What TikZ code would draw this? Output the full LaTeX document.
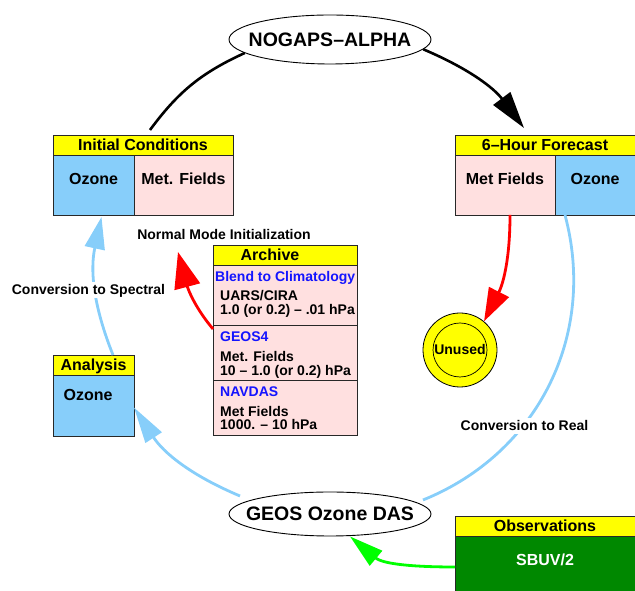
\documentclass[tikz,border=0pt]{standalone}
\usepackage{fontspec}
\setmainfont{Liberation Sans}
\usetikzlibrary{arrows.meta,shapes.geometric}
\definecolor{ozblue}{RGB}{135,206,250}
\definecolor{metpink}{RGB}{255,224,224}
\definecolor{hdryellow}{RGB}{255,255,0}
\definecolor{obsgreen}{RGB}{0,136,0}
\definecolor{arrgreen}{RGB}{0,255,0}
\definecolor{txtblue}{RGB}{20,20,255}
\definecolor{edgecol}{RGB}{40,40,40}
\begin{document}
\begin{tikzpicture}[x=1pt,y=1pt,
  boxcell/.style={draw=edgecol, line width=0.9pt, inner sep=0pt, outer sep=0pt,
    font=\bfseries\fontsize{16}{16}\selectfont, text height=11.5pt, text depth=0pt},
  hdrcell/.style={boxcell, fill=hdryellow, minimum height=20pt},
  ozcell/.style={boxcell, fill=ozblue, text depth=12pt},
  metcell/.style={boxcell, fill=metpink, text depth=12pt},
  bigtxt/.style={inner sep=0pt, font=\bfseries\fontsize{16}{16}\selectfont, text height=11.5pt, text depth=0pt},
  smalltxt/.style={inner sep=0pt, anchor=base west, font=\bfseries\fontsize{14}{14}\selectfont},
  bluetxt/.style={smalltxt, text=txtblue},
  lbl/.style={fill=white, inner sep=3pt, font=\bfseries\fontsize{14}{14}\selectfont, text height=10pt, text depth=0pt},
  ovalnode/.style={ellipse, draw=black, line width=0.9pt, fill=white, inner sep=0pt, minimum width=202pt},
  ovaltext/.style={inner sep=0pt, font=\bfseries\fontsize{19.5}{20}\selectfont, text height=14pt, text depth=0pt},
  blackline/.style={line width=2.6pt, draw=black},
  blueline/.style={line width=2.8pt, draw=ozblue},
  redline/.style={line width=2.8pt, draw=red},
  greenline/.style={line width=2.8pt, draw=arrgreen},
  bigtip/.style={-{Triangle[length=37pt,width=21pt]}}
]
\useasboundingbox (0,0) rectangle (635,591);

% ellipses
\node[ovalnode, minimum height=49pt, label={[ovaltext]center:NOGAPS–ALPHA}] (nogaps) at (330,551.5) {};
\node[ovalnode, minimum height=44pt, label={[ovaltext]center:GEOS Ozone DAS}] (das) at (330,77) {};

% Initial Conditions
\node[hdrcell, minimum width=180pt] (ich) at (143,446) {Initial Conditions};
\node[ozcell, minimum width=81pt, minimum height=60pt] (icoz) at (93.5,406) {Ozone};
\node[metcell, minimum width=99pt, minimum height=60pt] (icmet) at (183.5,406) {Met. Fields};

% 6-Hour Forecast
\node[hdrcell, minimum width=180pt] (fch) at (545,446) {6–Hour Forecast};
\node[metcell, minimum width=100pt, minimum height=60pt] (fcmet) at (505,406) {Met Fields};
\node[ozcell, minimum width=80pt, minimum height=60pt] (fcoz) at (595,406) {Ozone};

% Analysis
\node[hdrcell, minimum width=81pt] (anh) at (93.5,226) {Analysis};
\node[ozcell, minimum width=81pt, minimum height=61pt] (anbody) at (93.5,185.5) {};
\node[bigtxt] (anoz) at (88,196) {Ozone};

% Archive
\node[hdrcell, minimum width=144pt] (archh) at (285,336) {};
\node[bigtxt] (archt) at (270,336) {Archive};
\node[metcell, minimum width=144pt, minimum height=60pt] (arch1) at (285,296) {};
\node[metcell, minimum width=144pt, minimum height=55pt] (arch2) at (285,238.5) {};
\node[metcell, minimum width=144pt, minimum height=55pt] (arch3) at (285,183.5) {};
\node[bluetxt] (a1a) at (215,309.3) {Blend to Climatology};
\node[smalltxt] (a1b) at (220,290.3) {UARS/CIRA};
\node[smalltxt] (a1c) at (220,276) {1.0 (or 0.2) – .01 hPa};
\node[bluetxt] (a2a) at (220,249.3) {GEOS4};
\node[smalltxt] (a2b) at (220,229.3) {Met. Fields};
\node[smalltxt] (a2c) at (220,215) {10 – 1.0 (or 0.2) hPa};
\node[bluetxt] (a3a) at (220,194.3) {NAVDAS};
\node[smalltxt] (a3b) at (220,174.3) {Met Fields};
\node[smalltxt] (a3c) at (220,161) {1000. – 10 hPa};

% Unused
\node[circle, draw=black, line width=0.8pt, fill=hdryellow, minimum size=74pt, inner sep=0pt] (unused) at (460,241) {};
\node[circle, draw=black, line width=0.7pt, fill=hdryellow, minimum size=54pt, inner sep=0pt,
  font=\bfseries\fontsize{14}{14}\selectfont, text height=10pt, text depth=0pt] (unusedin) at (460,241) {Unused};

% Observations
\node[hdrcell, minimum width=180pt] (obsh) at (545,65) {Observations};
\node[boxcell, fill=obsgreen, minimum width=180pt, minimum height=60pt] (obsbody) at (545,25) {};
\node[bigtxt, text=white] (sbuv) at (545,31) {SBUV/2};

\coordinate (nmitip) at (178,339);

% connectors
\draw[blackline] ([xshift=7pt,yshift=5pt]ich.north) to[bend left=14.5] (nogaps.189);
\draw[blackline,bigtip] (nogaps.-6.5) to[bend left=15] ([xshift=-21pt,yshift=7pt]fch.north);
\draw[blueline] ([xshift=-30pt]fcoz.south) to[bend left=41.5] ([xshift=93pt,yshift=14pt]das.center);
\draw[blueline,-{Triangle[length=36pt,width=19pt]}] ([xshift=-90pt,yshift=18pt]das.center) to[bend left=17] ([yshift=-2pt]anbody.east);
\draw[blueline,-{Triangle[length=32pt,width=20pt]}] ([xshift=19.5pt]anh.north) to[bend left=17] ([xshift=8pt,yshift=-2pt]icoz.south);
\draw[redline,-{Triangle[length=33pt,width=22pt]}] ([xshift=5pt]fcmet.south) to[out=-90,in=63] (unused.50);
\draw[redline,-{Triangle[length=36pt,width=26pt]}] ([yshift=-4pt]arch2.north west) to[out=130,in=-75] (nmitip);
\draw[greenline,-{Triangle[length=34pt,width=19pt]}] ([yshift=-1pt]obsbody.west) to[out=180,in=-40] ([xshift=20pt]das.south);

% labels
\node[lbl] (nmi) at (224,356) {Normal Mode Initialization};
\node[lbl] (c2s) at (88.5,301) {Conversion to Spectral};
\node[lbl] (c2r) at (524.5,165) {Conversion to Real};
\end{tikzpicture}
\end{document}
